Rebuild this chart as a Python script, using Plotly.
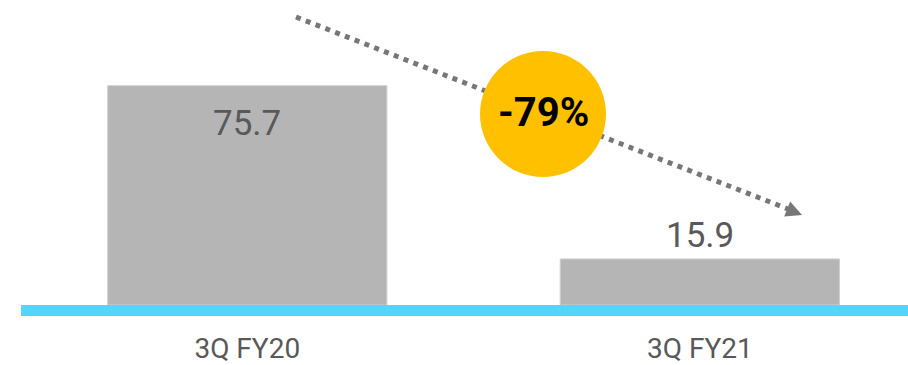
import plotly.graph_objects as go

categories = ["3Q FY20", "3Q FY21"]
values = [75.7, 15.9]
change_label = "-79%"

W, H = 908, 365
ML, MR, MT, MB = 21, 0, 0, 49
PW, PH = W - ML - MR, H - MT - MB

def px(x):
    return (x - ML) / PW

def py(y):
    return 1 - (y - MT) / PH

GRAY_TXT = "#595959"
FONT = "Roboto"

fig = go.Figure()
fig.add_trace(go.Bar(
    x=categories, y=values,
    marker=dict(color="#b5b5b5", line=dict(color="#cfcfcf", width=1)),
    width=0.617, hoverinfo="skip",
))

# value labels
fig.add_annotation(x=categories[0], y=values[0], text=f"{values[0]}", showarrow=False,
                   yanchor="top", yshift=-15, font=dict(family=FONT, size=35, color=GRAY_TXT))
fig.add_annotation(x=categories[1], y=values[1], text=f"{values[1]}", showarrow=False,
                   yanchor="bottom", yshift=1, font=dict(family=FONT, size=35, color=GRAY_TXT))

# baseline band
fig.add_shape(type="rect", xref="paper", yref="y", x0=0, x1=1, y0=0, y1=-3.8,
              fillcolor="#55d4fd", line=dict(width=0), layer="above")

# dotted arrow
x0p, y0p = 296, 17
x1p, y1p = 788, 209
fig.add_shape(type="line", xref="paper", yref="paper",
              x0=px(x0p), y0=py(y0p), x1=px(x1p), y1=py(y1p),
              line=dict(color="#777777", width=5, dash="5px,5.5px"))
fig.add_annotation(xref="paper", yref="paper", x=px(802), y=py(215),
                   ax=-16, ay=-6.5, axref="pixel", ayref="pixel", text="",
                   showarrow=True, arrowhead=2, arrowsize=0.8, arrowwidth=4,
                   arrowcolor="#777777")

# circle
fig.add_shape(type="circle", xref="paper", yref="paper",
              x0=px(480), x1=px(606), y0=py(177), y1=py(51),
              fillcolor="#ffc000", line=dict(width=0))
fig.add_annotation(xref="paper", yref="paper", x=px(543), y=py(112), text=f"<b>{change_label}</b>",
                   showarrow=False, font=dict(family=FONT, size=40, color="#000000"))

fig.update_layout(
    width=W, height=H,
    margin=dict(l=ML, r=MR, t=MT, b=MB),
    paper_bgcolor="white", plot_bgcolor="white",
    showlegend=False,
    xaxis=dict(range=[-0.5, 1.46], showgrid=False, zeroline=False, showline=False,
               ticks="", tickfont=dict(family=FONT, size=28, color=GRAY_TXT),
               ticklabelstandoff=13, fixedrange=True),
    yaxis=dict(range=[-3.797, 105.28], visible=False, fixedrange=True),
)

fig.write_html("out.html")
